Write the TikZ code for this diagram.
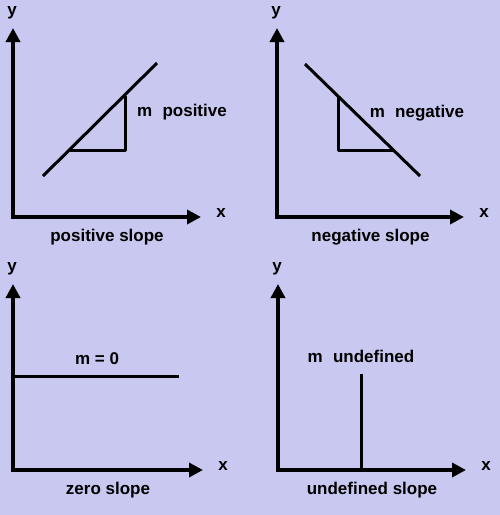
\documentclass[tikz,border=0pt]{standalone}
\usepackage{fontspec}
\setmainfont{Liberation Sans}
\usepackage{xcolor}
\usetikzlibrary{calc,arrows.meta,positioning}
\definecolor{lavbg}{HTML}{C8C8F0}
\tikzset{
  ax/.style={{Triangle[length=14pt,width=14pt]}-{Triangle[length=14pt,width=14pt]},line width=3.4pt},
  ln/.style={line width=3pt,line join=round},
  lbl/.style={font=\fontsize{17}{20}\selectfont\bfseries,inner sep=0pt}
}
\begin{document}
\begin{tikzpicture}[x=1pt,y=-1pt]
\fill[lavbg] (0,0) rectangle (500,515);
\useasboundingbox (0,0) rectangle (500,515);
% four sets of axes
\foreach \k/\ox/\oy/\xr/\yt/\t in {a/13/217/201/28/{positive slope},b/277/217/464/28/{negative slope},c/13/470/203/284/{zero slope},d/278/470/466/284/{undefined slope}}{
 \coordinate (o\k) at (\ox,\oy);
 \coordinate (x\k) at (\xr,\oy);
 \coordinate (y\k) at (\ox,\yt);
 \draw[ax] (y\k) -- (o\k) -- (x\k);
 \node[lbl] (ly\k) at ($(y\k)+(-1,-15)$) {y};
 \node[lbl] (lx\k) at ($(x\k)+(20,-4)$) {x};
 \node[lbl] (cap\k) at ($(o\k)!0.5!(x\k)+(0,20)$) {\t};}
% positive slope
\coordinate (pa) at (43,176); \coordinate (pb) at (157,63);
\coordinate (pc) at (70,150); \coordinate (pd) at (125,150); \coordinate (pe) at (125,96);
\draw[ln] (pa) -- (pb);
\draw[ln] (pc) -- (pd) -- (pe);
\node[lbl] (mpos) at (182,112) {m\hspace{0.6em}positive};
% negative slope
\coordinate (na) at (305,64); \coordinate (nb) at (420,176);
\coordinate (nc) at (338,96); \coordinate (nd) at (338,150); \coordinate (ne) at (393,150);
\draw[ln] (na) -- (nb);
\draw[ln] (nc) -- (nd) -- (ne);
\node[lbl] (mneg) at (417,113) {m\hspace{0.6em}negative};
% zero slope
\coordinate (za) at (13,376); \coordinate (zb) at (179,376);
\draw[ln] (za) -- (zb);
\node[lbl] (mzero) at (97,359) {m = 0};
% undefined slope
\coordinate (ua) at (361,470); \coordinate (ub) at (361,374);
\draw[ln] (ua) -- (ub);
\node[lbl] (mund) at (361,356) {m\hspace{0.6em}undefined};
\end{tikzpicture}
\end{document}
